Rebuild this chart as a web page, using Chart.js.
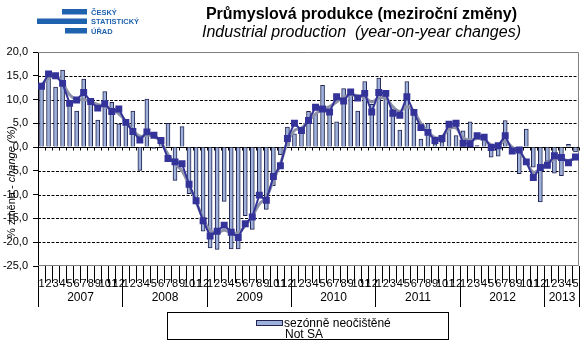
<!DOCTYPE html>
<html>
<head>
<meta charset="utf-8">
<script src="https://cdn.jsdelivr.net/npm/chart.js@4"></script>
<style>
  body { margin: 0; background: #fff; }
  #wrap { position: relative; width: 586px; height: 351px; }
  #title { position: absolute; left: 0; top: 5px; width: 723px; text-align: center;
           font: 16px/18px "Liberation Sans", Arial, sans-serif; color: #000; }
</style>
</head>
<body>
<div id="wrap">
  <canvas id="chart" width="586" height="351"></canvas>
  <div id="title"><b>Průmyslová produkce (meziroční změny)</b><br><i>Industrial production&nbsp; (year-on-year changes)</i></div>
</div>
<script>
// ===== Data =====
const years = ['2007', '2008', '2009', '2010', '2011', '2012', '2013'];
const monthsPerYear = [12, 12, 12, 12, 12, 12, 5];
const yTicks = [-25, -20, -15, -10, -5, 0, 5, 10, 15, 20];

// month numbers as category labels
const monthLabels = [];
monthsPerYear.forEach(n => { for (let m = 1; m <= n; m++) monthLabels.push(String(m)); });

// not seasonally adjusted (bars)
const notSA = [
  13.0, 15.9, 12.6, 16.2, 9.0, 7.6, 14.3, 9.0, 5.7, 11.7, 9.4, 4.9,
  5.5, 7.6, -4.9, 10.1, -0.3, 0.8, 5.0, -7.0, 4.3, -9.8, -11.7, -17.7,
  -21.2, -21.5, -11.4, -21.4, -21.4, -14.4, -17.3, -10.7, -13.1, -8.1, -1.6, 4.2,
  2.8, 3.5, 7.5, 7.0, 13.0, 7.5, 5.3, 12.3, 11.0, 7.6, 13.8, 9.0,
  14.5, 11.0, 8.0, 3.6, 13.8, 7.0, 1.7, 5.0, 0.7, 1.1, 4.7, 2.4,
  3.4, 5.3, 0.3, 1.5, -2.1, -1.9, 5.6, -0.5, -5.6, 3.8, -4.2, -11.5,
  -3.0, -5.5, -6.0, 0.6, -1.0
];

// seasonally adjusted (dark line with squares)
const seasAdj = [
  12.8, 15.4, 15.0, 13.4, 9.2, 9.9, 11.5, 9.6, 8.2, 9.1, 7.5, 8.0,
  5.2, 3.3, 1.5, 3.2, 2.5, 1.4, -2.4, -3.1, -3.5, -7.8, -11.3, -15.5,
  -18.7, -17.7, -16.4, -17.9, -19.0, -16.1, -14.7, -10.1, -11.2, -6.2, -3.9, 1.8,
  5.0, 3.5, 5.6, 8.4, 8.0, 7.4, 10.6, 9.7, 11.6, 10.3, 11.3, 7.4,
  11.5, 11.3, 7.1, 6.7, 10.6, 7.3, 4.1, 3.1, 1.4, 1.8, 4.8, 5.0,
  0.8, 0.7, 2.4, 2.1, -0.1, 0.3, 2.4, -0.8, -0.6, -3.1, -6.4, -4.3,
  -3.8, -1.8, -2.2, -3.3, -2.1
];

// trend (grey smooth line)
const trend = [
  13.0, 14.5, 15.0, 13.5, 11.0, 10.0, 10.0, 9.5, 9.0, 8.5, 8.0, 7.0,
  5.5, 3.5, 2.3, 2.5, 2.3, 1.0, -1.5, -3.5, -5.0, -8.0, -11.5, -15.0,
  -17.5, -18.0, -17.5, -18.0, -18.0, -16.5, -14.5, -12.0, -10.5, -7.0, -3.5, 1.0,
  3.5, 4.0, 5.5, 7.0, 8.0, 8.5, 9.5, 10.5, 11.0, 10.8, 10.5, 9.5,
  10.3, 10.3, 8.5, 7.5, 8.5, 7.5, 5.0, 3.3, 2.0, 2.2, 3.8, 4.0,
  2.0, 1.5, 1.8, 1.5, 0.5, 0.5, 1.2, 0.0, -1.0, -3.0, -5.3, -4.5,
  -3.5, -2.5, -2.5, -2.8, -2.3
];

const FONT = '"Liberation Sans", Arial, sans-serif';
Chart.defaults.font.family = FONT;

// Logo, grid, bottom axis rows, axis title and legend
const decorations = {
  id: 'decorations',
  beforeDraw(chart) {
    const ctx = chart.ctx;
    ctx.save();
    ctx.fillStyle = '#1f62ad';
    ctx.fillRect(62, 9, 25, 5.5);
    ctx.fillRect(37, 18.5, 50, 5.5);
    ctx.fillRect(65, 28, 22, 5.5);
    ctx.font = 'bold 7.5px ' + FONT;
    ctx.fillText('ČESKÝ', 91, 14.5);
    ctx.fillText('STATISTICKÝ', 91, 24);
    ctx.fillText('ÚŘAD', 91, 33.5);
    ctx.restore();
  },
  beforeDatasetsDraw(chart) {
    const { ctx, chartArea: a, scales: { x, y } } = chart;
    ctx.save();
    ctx.lineWidth = 1;
    ctx.strokeStyle = '#000';
    ctx.setLineDash([3, 1.5]);
    yTicks.forEach(v => {
      if (v === 0 || v === yTicks[0] || v === yTicks[yTicks.length - 1]) return;
      const py = Math.round(y.getPixelForValue(v)) + 0.5;
      ctx.beginPath(); ctx.moveTo(a.left, py); ctx.lineTo(a.right, py); ctx.stroke();
    });
    ctx.setLineDash([]);
    // plot border
    ctx.strokeStyle = '#808080';
    ctx.beginPath();
    ctx.moveTo(a.left, a.top + 0.5); ctx.lineTo(a.right - 0.5, a.top + 0.5);
    ctx.lineTo(a.right - 0.5, a.bottom - 0.5); ctx.lineTo(a.left, a.bottom - 0.5);
    ctx.stroke();
    // zero line with ticks
    const y0 = Math.round(y.getPixelForValue(0)) + 0.5;
    const step = x.getPixelForValue(1) - x.getPixelForValue(0);
    ctx.strokeStyle = '#000';
    ctx.beginPath();
    ctx.moveTo(a.left, y0); ctx.lineTo(a.right, y0);
    for (let i = 0; i <= monthLabels.length; i++) {
      const px = Math.round(x.getPixelForValue(0) - step / 2 + i * step) + 0.5;
      ctx.moveTo(px, y0); ctx.lineTo(px, y0 + 3);
    }
    ctx.stroke();
    ctx.restore();
  },
  afterDraw(chart) {
    const { ctx, chartArea: a, scales: { x } } = chart;
    const step = x.getPixelForValue(1) - x.getPixelForValue(0);
    const left = x.getPixelForValue(0) - step / 2;
    ctx.save();
    ctx.strokeStyle = '#000';
    ctx.lineWidth = 1;
    ctx.beginPath();
    for (let i = 0; i <= monthLabels.length; i++) {
      const px = Math.round(left + i * step) + 0.5;
      ctx.moveTo(px, a.bottom); ctx.lineTo(px, a.bottom + 17);
    }
    let start = 0;
    ctx.font = '12px ' + FONT;
    ctx.fillStyle = '#000';
    ctx.textAlign = 'center';
    ctx.textBaseline = 'middle';
    years.forEach((yr, k) => {
      const end = start + monthsPerYear[k];
      const p0 = Math.round(left + start * step) + 0.5;
      const p1 = Math.round(left + end * step) + 0.5;
      ctx.moveTo(p0, a.bottom); ctx.lineTo(p0, a.bottom + 41);
      ctx.moveTo(p1, a.bottom); ctx.lineTo(p1, a.bottom + 41);
      ctx.fillText(yr, (p0 + p1) / 2, a.bottom + 32);
      start = end;
    });
    ctx.stroke();

    // y axis title
    ctx.save();
    ctx.translate(12, 182);
    ctx.rotate(-Math.PI / 2);
    ctx.font = '11px ' + FONT;
    const t1 = '% změna - ';
    ctx.font = 'italic 11px ' + FONT;
    const t2 = 'change (%)';
    const w2 = ctx.measureText(t2).width;
    ctx.font = '11px ' + FONT;
    const w1 = ctx.measureText(t1).width;
    ctx.textAlign = 'left';
    ctx.fillText(t1, -(w1 + w2) / 2, 0);
    ctx.font = 'italic 11px ' + FONT;
    ctx.fillText(t2, -(w1 + w2) / 2 + w1, 0);
    ctx.restore();

    // legend
    ctx.strokeStyle = '#000';
    ctx.strokeRect(167.5, 312.5, 281, 27);
    ctx.fillStyle = '#9db1da';
    ctx.fillRect(256, 320, 27, 6);
    ctx.strokeStyle = '#23234f';
    ctx.strokeRect(256.5, 320.5, 26, 5);
    ctx.fillStyle = '#000';
    ctx.font = '12px ' + FONT;
    ctx.textAlign = 'left';
    ctx.textBaseline = 'alphabetic';
    ctx.fillText('sezónně neočištěné', 284, 327);
    ctx.fillText('Not SA', 285, 338);
    ctx.restore();
  }
};

new Chart(document.getElementById('chart'), {
  type: 'bar',
  data: {
    labels: monthLabels,
    datasets: [
      {
        type: 'line', label: 'sezónně očištěné', data: seasAdj,
        borderColor: '#333399', backgroundColor: '#333399', borderWidth: 2,
        pointStyle: 'rect', pointRadius: 3.5, pointHoverRadius: 3.5, tension: 0, order: 0
      },
      {
        type: 'line', label: 'trend', data: trend,
        borderColor: '#8f93a8', borderWidth: 3, pointRadius: 0, tension: 0.4, order: 1
      },
      {
        label: 'sezónně neočištěné', data: notSA,
        backgroundColor: '#9db1da', borderColor: '#23234f', borderWidth: 1,
        barThickness: 4, order: 2
      }
    ]
  },
  options: {
    responsive: false,
    animation: false,
    devicePixelRatio: 1,
    layout: { padding: { top: 52, right: 7, left: 0, bottom: 0 } },
    plugins: { legend: { display: false }, tooltip: { enabled: false } },
    scales: {
      x: {
        offset: true,
        grid: { display: false },
        border: { display: false },
        ticks: { autoSkip: false, maxRotation: 0, minRotation: 0, padding: 3, color: '#000', font: { size: 11 } },
        afterFit(s) { s.height = 85; }
      },
      y: {
        min: -25, max: 20,
        ticks: { stepSize: 5, padding: 5, color: '#000', font: { size: 11 },
                 callback: v => v.toFixed(1).replace('.', ',') },
        grid: { drawOnChartArea: false, drawTicks: true, tickLength: 5, color: '#000' },
        border: { color: '#000' },
        afterFit(s) { s.width = 38; }
      }
    }
  },
  plugins: [decorations]
});
</script>
</body>
</html>
